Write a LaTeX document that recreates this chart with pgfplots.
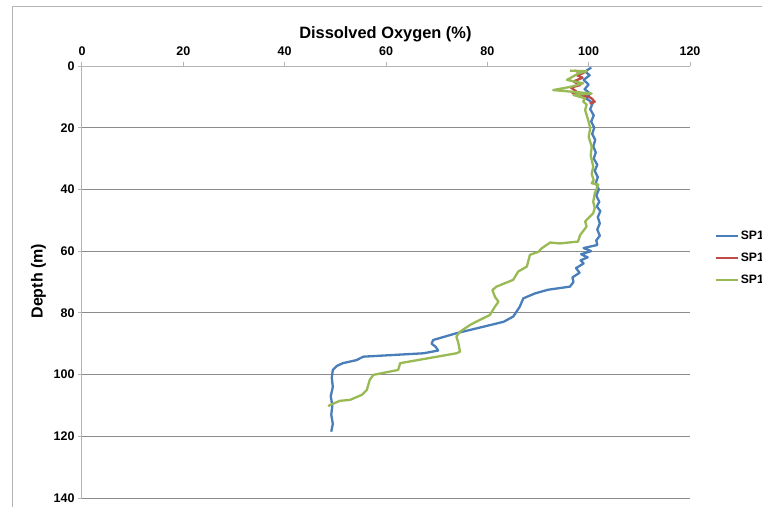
\documentclass[border=0pt]{standalone}
\usepackage{fontspec}
\setmainfont{Liberation Sans}
\usepackage{pgfplots}
\pgfplotsset{compat=1.18}
\definecolor{cblue}{HTML}{4A7EBB}
\definecolor{cred}{HTML}{BE4B48}
\definecolor{cgreen}{HTML}{98B954}
\definecolor{gridc}{HTML}{8C8C8C}
\definecolor{axc}{HTML}{B4B4B4}
\begin{document}
\begin{tikzpicture}
\useasboundingbox (-82pt,-8pt) rectangle (680pt,498pt);
\draw[axc, line width=1pt] (-69pt,-20pt) |- (700pt,491pt);
\begin{axis}[
  at={(0pt,0pt)}, anchor=south west,
  width=608pt, height=432pt, scale only axis,
  xmin=0, xmax=120, ymin=0, ymax=140, y dir=reverse,
  axis x line*=top, axis y line*=left,
  xtick={0,20,...,120}, ytick={0,20,...,140},
  tick align=outside, major tick length=4pt,
  tick style={axc, line width=1pt},
  axis line style={axc, line width=1pt},
  ymajorgrids, grid style={gridc, line width=0.8pt},
  /pgf/number format/assume math mode=true,
  ticklabel style={font=\bfseries\fontsize{12.5}{14}\selectfont},
  xticklabel style={yshift=2.5pt},
  xlabel={Dissolved Oxygen (\%)},
  xlabel style={at={(axis description cs:0.499,1)}, anchor=base, yshift=28pt, font=\bfseries\fontsize{16.4}{18}\selectfont},
  ylabel={Depth (m)},
  ylabel style={at={(axis description cs:-0.0715,0.502)}, anchor=center, font=\bfseries\fontsize{16}{18}\selectfont},
  legend style={at={(axis description cs:1.035,0.556)}, anchor=west, draw=none, fill=none,
    font=\bfseries\fontsize{12.2}{14}\selectfont, row sep=8pt},
  legend cell align=left,
  legend image code/.code={\draw[#1] (0pt,0pt) -- (22pt,0pt);},
]
\addplot[cblue, line width=2.3pt, line join=round] coordinates {
(100.5,0.5)(99.3,1.8)(100.2,3)(99.0,4.5)(100.0,6)(99.2,7.5)(100.3,9)(99.5,10.5)(100.8,12)(100.3,14)(101,16)(100.5,18)(101.1,20)(100.7,22)(101.3,24)(100.9,26)(101.4,28)(101,30)(101.7,32)(101.2,34)(101.8,36)(101.4,38)(102,40)(101.5,42)(102.1,44)(101.6,45.5)(102.3,47)(101.8,49)(102.2,51)(101.7,53)(102.2,55)(101.5,56.5)(101.7,58)(99.0,59)(100.5,60)(98.5,61)(99.8,62)(98.4,63)(99,64)(97.5,65.5)(98.2,67)(96.8,68.5)(97,70)(96.3,71.5)(92,72.5)(89.4,73.7)(87.1,75.3)(86.4,78)(85.1,81.2)(83.2,82.9)(79.2,84.5)(73.9,86.6)(69.3,88.8)(69.0,90)(69.8,91)(70.3,92.2)(67.4,93.1)(55.5,94.2)(54.2,95.3)(51.5,96.3)(50.3,97.2)(49.5,98.5)(49.3,101)(49.5,104)(49.1,107)(49.4,110)(49.2,113)(49.5,116)(49.2,118.5)
};
\addlegendentry{SP1}
\addplot[cred, line width=2.3pt, line join=round] coordinates {
(97.2,1.5)(99,2.3)(97.6,2.9)(98.8,3.8)(97,5)(98.3,6.2)(96.5,7)(97.6,8.3)(96.8,8.8)(98.3,9.4)(100,10)(100.6,10.5)(101.2,11.6)(100.2,12.2)
};
\addlegendentry{SP1}
\addplot[cgreen, line width=2.3pt, line join=round] coordinates {
(96.3,1.5)(99.6,1.7)(98,2.4)(95.7,4.5)(98.9,5.6)(96.6,6.7)(93,7.8)(100.6,8.9)(97,9.4)(99.3,10.5)(98.9,11.5)(99.6,12.5)(99.3,14.3)(99.9,17.5)(100.3,20.2)(100,23)(100.6,26.1)(100.4,29)(100.9,32.6)(100.6,35)(101,37)(100.6,38)(101.9,38.4)(101.2,41.3)(100.9,44)(101.2,46)(100.9,47.7)(99.3,50.4)(99.6,52)(98.3,54.8)(97.9,56.9)(94.3,57.5)(92.4,57.2)(90.7,59.1)(90.1,60.2)(88.4,61.2)(87.8,65)(86.1,66.6)(85.1,69.3)(81.8,71.5)(81,72.6)(81.5,74.8)(82.2,76.4)(81.5,78)(80.5,80.7)(78.5,82.3)(76.6,83.9)(74.6,86.1)(73.9,87.7)(74.3,89.9)(74.6,92.6)(73.9,93.1)(62.8,96.3)(62.4,98.5)(57.5,100.1)(56.8,101.7)(56.2,105)(55.2,106.6)(52.9,108.2)(50.9,108.5)(48.9,109.9)(48.6,110.3)
};
\addlegendentry{SP1}
\end{axis}
\end{tikzpicture}
\end{document}
